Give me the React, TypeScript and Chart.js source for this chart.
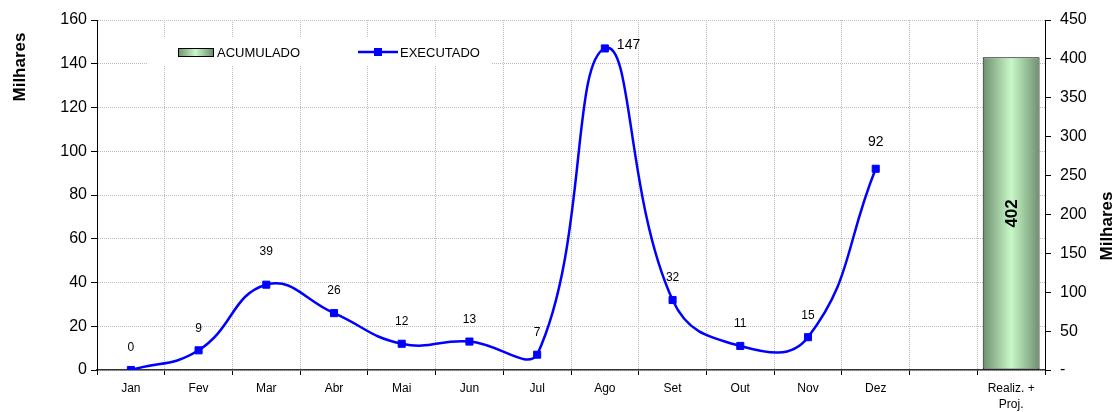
import React, { useEffect, useRef } from 'react';
import { Chart, registerables } from 'chart.js';

Chart.register(...registerables);

// ---- data ----
const categories: (string | string[])[] = ['Jan', 'Fev', 'Mar', 'Abr', 'Mai', 'Jun', 'Jul', 'Ago', 'Set', 'Out', 'Nov', 'Dez', '', ['Realiz. +', 'Proj.']];
const executado: number[] = [0, 9, 39, 26, 12, 13, 7, 147, 32, 11, 15, 92];
const acumuladoIndex = 13;
const acumulado = 402;
const leftAxis = { min: 0, max: 160, step: 20 };
const rightAxis = { min: 0, max: 450, step: 50 };
const seriesNames = { bar: 'ACUMULADO', line: 'EXECUTADO' };

const FONT = "'Liberation Sans', Arial, sans-serif";
const BAR_PCT = 0.84;
const BLUE = '#0000ff';
const GRID = '#bdbdbd';

const lineData: (number | null)[] = categories.map((_, i) => (i < executado.length ? executado[i] : null));
const barData: (number | null)[] = categories.map((_, i) => (i === acumuladoIndex ? acumulado : null));

function greenGradient(ctx: CanvasRenderingContext2D, x0: number, x1: number) {
  const g = ctx.createLinearGradient(x0, 0, x1, 0);
  g.addColorStop(0, '#6e8e6e');
  g.addColorStop(0.5, '#c8f8c8');
  g.addColorStop(1, '#6e8e6e');
  return g;
}

const overlayPlugin = {
  id: 'overlay',
  beforeDatasetsDraw(chart: any) {
    const ctx: CanvasRenderingContext2D = chart.ctx;
    ctx.save();
    // legend box
    ctx.fillStyle = '#ffffff';
    ctx.fillRect(148, 37, 344, 29);
    // bar swatch
    ctx.fillStyle = greenGradient(ctx, 178, 213);
    ctx.fillRect(178.5, 48.5, 35, 8);
    ctx.strokeStyle = '#000';
    ctx.lineWidth = 1;
    ctx.strokeRect(178.5, 48.5, 35, 8);
    ctx.font = `13px ${FONT}`;
    ctx.fillStyle = '#000';
    ctx.textBaseline = 'middle';
    ctx.textAlign = 'left';
    ctx.fillText(seriesNames.bar, 217, 53);
    // line swatch
    ctx.strokeStyle = BLUE;
    ctx.lineWidth = 2.5;
    ctx.beginPath();
    ctx.moveTo(358, 52);
    ctx.lineTo(398, 52);
    ctx.stroke();
    ctx.fillStyle = BLUE;
    ctx.fillRect(374, 48, 8, 8);
    ctx.fillStyle = '#000';
    ctx.fillText(seriesNames.line, 400, 53);
    ctx.restore();
  },
  afterDatasetsDraw(chart: any) {
    const ctx: CanvasRenderingContext2D = chart.ctx;
    ctx.save();
    const meta = chart.getDatasetMeta(0);
    meta.data.forEach((pt: any, i: number) => {
      const v = lineData[i];
      if (v == null) return;
      const big = i === 7 || i === 11;
      ctx.font = `${big ? 14 : 12}px ${FONT}`;
      ctx.fillStyle = '#000';
      ctx.textBaseline = 'middle';
      if (i === 7) {
        ctx.textAlign = 'left';
        ctx.fillText(String(v), pt.x + 12, pt.y - 3);
      } else {
        ctx.textAlign = 'center';
        const dy = i === 2 ? -33 : i === 11 ? -27 : -22;
        ctx.fillText(String(v), pt.x, pt.y + dy);
      }
    });
    const bmeta = chart.getDatasetMeta(1);
    const bar = bmeta.data[acumuladoIndex];
    if (bar) {
      ctx.translate(bar.x, (bar.y + bar.base) / 2);
      ctx.rotate(-Math.PI / 2);
      ctx.font = `bold 17px ${FONT}`;
      ctx.textAlign = 'center';
      ctx.textBaseline = 'middle';
      ctx.fillStyle = '#000';
      ctx.fillText(String(acumulado), 0, 1);
    }
    ctx.restore();
  },
  afterDraw(chart: any) {
    const ctx: CanvasRenderingContext2D = chart.ctx;
    const drawTitle = (x: number, y: number) => {
      ctx.save();
      ctx.translate(x, y);
      ctx.rotate(-Math.PI / 2);
      ctx.font = `bold 17px ${FONT}`;
      ctx.fillStyle = '#000';
      ctx.textAlign = 'center';
      ctx.textBaseline = 'middle';
      ctx.fillText('Milhares', 0, 0);
      ctx.restore();
    };
    drawTitle(20, 67);
    drawTitle(1107, 226);
  },
};

export default function App() {
  const ref = useRef<HTMLCanvasElement | null>(null);
  useEffect(() => {
    if (!ref.current) return;
    const chart = new Chart(ref.current, {
      type: 'bar',
      data: {
        labels: categories as any,
        datasets: [
          {
            type: 'line',
            label: seriesNames.line,
            data: lineData,
            yAxisID: 'y',
            borderColor: BLUE,
            backgroundColor: BLUE,
            borderWidth: 2.5,
            tension: 0.45,
            pointStyle: 'rect',
            pointRadius: 5,
            pointBorderWidth: 1,
            pointBackgroundColor: BLUE,
            pointBorderColor: BLUE,
            spanGaps: false,
            order: 0,
          } as any,
          {
            type: 'bar',
            label: seriesNames.bar,
            data: barData,
            yAxisID: 'y1',
            backgroundColor: (c: any) => {
              const ch = c.chart;
              const xs = ch.scales && ch.scales.x;
              if (!xs || !ch.chartArea) return '#a0d0a0';
              const cx = xs.getPixelForValue(acumuladoIndex);
              const w = (xs.width / categories.length) * BAR_PCT;
              return greenGradient(ch.ctx, cx - w / 2, cx + w / 2);
            },
            borderColor: '#000',
            borderWidth: 1,
            borderSkipped: false,
            barPercentage: BAR_PCT,
            categoryPercentage: 1,
            order: 1,
          } as any,
        ],
      },
      options: {
        animation: false,
        responsive: false,
        layout: { padding: { top: 20, left: 0, right: 0, bottom: 0 } },
        plugins: { legend: { display: false }, tooltip: { enabled: false } },
        scales: {
          x: {
            type: 'category',
            offset: true,
            grid: { offset: true, color: GRID, tickColor: '#000', tickLength: 5, drawOnChartArea: true },
            border: { color: '#333', width: 1.5, dash: [1, 1] },
            ticks: { color: '#000', font: { family: FONT, size: 12, lineHeight: 1.3 }, padding: 6, maxRotation: 0, autoSkip: false },
            afterFit: (s: any) => { s.height = 42; },
          },
          y: {
            position: 'left',
            min: leftAxis.min,
            max: leftAxis.max,
            ticks: { stepSize: leftAxis.step, color: '#000', font: { family: FONT, size: 16 }, padding: 4 },
            grid: { color: GRID, tickColor: '#000', tickLength: 6 },
            border: { color: '#000', width: 1, dash: [1, 1] },
            afterFit: (s: any) => { s.width = 97; },
          },
          y1: {
            position: 'right',
            min: rightAxis.min,
            max: rightAxis.max,
            ticks: {
              stepSize: rightAxis.step,
              color: '#000',
              font: { family: FONT, size: 16 },
              padding: 9,
              callback: (v: any) => (Number(v) === 0 ? '-' : String(v)),
            },
            grid: { drawOnChartArea: false, tickColor: '#000', tickLength: 6 },
            border: { color: '#000', width: 1 },
            afterFit: (s: any) => { s.width = 70; },
          },
        },
      } as any,
      plugins: [overlayPlugin],
    });
    return () => chart.destroy();
  }, []);
  return (
    <div style={{ position: 'fixed', left: 0, top: 0, width: 1115, height: 412, background: '#fff' }}>
      <canvas ref={ref} width={1115} height={412} />
    </div>
  );
}
